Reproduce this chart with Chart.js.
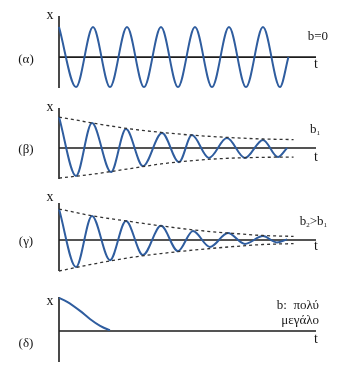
<!DOCTYPE html>
<html>
<head>
<meta charset="utf-8">
<script src="https://cdn.jsdelivr.net/npm/chart.js@4.4.0/dist/chart.umd.min.js"></script>
<style>
  body { margin: 0; background: #fff; }
  #wrap { position: relative; width: 347px; height: 371px; overflow: hidden; }
  canvas { position: absolute; left: 0; top: 0; }
  .lbl {
    position: absolute;
    font-family: "Liberation Serif", "DejaVu Serif", serif;
    color: #161616;
    white-space: nowrap;
    line-height: 1;
    transform: translate(-50%, -50%);
  }
  .r { transform: translate(-100%, -50%); }
  sub { font-size: 7px; vertical-align: -2px; }
</style>
</head>
<body>
<div id="wrap">
  <canvas id="panelA" width="347" height="371"></canvas>
  <canvas id="panelB" width="347" height="371"></canvas>
  <canvas id="panelC" width="347" height="371"></canvas>
  <canvas id="panelD" width="347" height="371"></canvas>

  <div class="lbl" style="left:50px;top:15px;font-size:14px">x</div>
  <div class="lbl" style="left:50px;top:107px;font-size:14px">x</div>
  <div class="lbl" style="left:50px;top:197px;font-size:14px">x</div>
  <div class="lbl" style="left:50px;top:301px;font-size:14px">x</div>

  <div class="lbl" style="left:316px;top:64px;font-size:14px">t</div>
  <div class="lbl" style="left:316px;top:157px;font-size:14px">t</div>
  <div class="lbl" style="left:316px;top:246px;font-size:14px">t</div>
  <div class="lbl" style="left:316px;top:339px;font-size:14px">t</div>

  <div class="lbl" style="left:26px;top:58px;font-size:13px">(α)</div>
  <div class="lbl" style="left:26px;top:148px;font-size:13px">(β)</div>
  <div class="lbl" style="left:26px;top:240px;font-size:13px">(γ)</div>
  <div class="lbl" style="left:26px;top:342px;font-size:13px">(δ)</div>

  <div class="lbl r" style="left:328px;top:35px;font-size:13px">b=0</div>
  <div class="lbl r" style="left:320px;top:129px;font-size:13px">b<sub>1</sub></div>
  <div class="lbl r" style="left:327px;top:221px;font-size:13px">b<sub>2</sub>&gt;b<sub>1</sub></div>
  <div class="lbl r" style="left:319px;top:304px;font-size:13px">b:&nbsp; πολύ</div>
  <div class="lbl r" style="left:319px;top:319px;font-size:13px">μεγάλο</div>
</div>

<script>
// time t in oscillation periods, displacement x in units of the starting amplitude

// (α) no damping
const tA = [0, 0.5, 1, 1.5, 2, 2.5, 3, 3.5, 4, 4.5, 5, 5.5, 6, 6.5, 6.75];
const xA = [1, -1, 1, -1, 1, -1, 1, -1, 1, -1, 1, -1, 1, -1, 0];

// (β) light damping b1
const tB = [0, 0.5, 0.97, 1.53, 1.97, 2.47, 3.03, 3.53, 3.91, 4.41, 4.94, 5.47, 6.0, 6.44, 6.71];
const xB = [1.03, -0.93, 0.83, -0.8, 0.63, -0.6, 0.5, -0.47, 0.43, -0.33, 0.33, -0.33, 0.27, -0.3, 0];

// (γ) stronger damping b2 > b1
const tC = [0, 0.5, 0.97, 1.5, 1.97, 2.47, 3.0, 3.5, 3.94, 4.44, 4.97, 5.47, 6.0, 6.41, 6.71];
const xC = [1.03, -0.9, 0.8, -0.67, 0.63, -0.5, 0.47, -0.37, 0.3, -0.23, 0.23, -0.13, 0.13, -0.08, 0.02];

// (δ) very large damping, no oscillation
const tD = [0, 0.24, 0.62, 0.91, 1.21, 1.44, 1.5];
const xD = [1.1, 0.97, 0.67, 0.4, 0.17, 0.05, 0.03];

// dashed amplitude envelopes
const tEnv = [0, 1, 2, 3, 4, 5, 6, 6.9];
const envTopB = [1.03, 0.83, 0.65, 0.52, 0.42, 0.35, 0.3, 0.28];
const envBotB = [-1.0, -0.87, -0.7, -0.53, -0.41, -0.34, -0.31, -0.3];
const envTopC = [1.03, 0.8, 0.63, 0.47, 0.33, 0.23, 0.15, 0.12];
const envBotC = [-1.03, -0.8, -0.6, -0.45, -0.33, -0.23, -0.15, -0.12];

const tMax = 7.56;
const blue = "#2f5d9f";

function pts(t, x) {
  return t.map((v, i) => ({ x: v, y: x[i] }));
}

function curve(t, x) {
  return {
    data: pts(t, x),
    borderColor: blue,
    borderWidth: 2,
    pointRadius: 0,
    cubicInterpolationMode: "monotone",
    clip: false,
  };
}

function envelope(t, x) {
  return {
    data: pts(t, x),
    borderColor: "#333",
    borderWidth: 1.3,
    borderDash: [3, 3],
    pointRadius: 0,
    cubicInterpolationMode: "monotone",
    clip: false,
  };
}

// draws the x axis (vertical) and the t axis along x = 0
const axesPlugin = {
  id: "axes",
  beforeDatasetsDraw(chart) {
    const { ctx, chartArea: a, scales } = chart;
    const y0 = scales.y.getPixelForValue(0);
    ctx.save();
    ctx.strokeStyle = "#1d1d1d";
    ctx.lineWidth = 1.6;
    ctx.beginPath();
    ctx.moveTo(a.left, a.top);
    ctx.lineTo(a.left, a.bottom);
    ctx.moveTo(a.left, y0);
    ctx.lineTo(a.right, y0);
    ctx.stroke();
    ctx.restore();
  },
};

function makePanel(id, top, bottom, yMin, yMax, datasets) {
  return new Chart(id, {
    type: "line",
    data: { datasets: datasets },
    options: {
      responsive: false,
      animation: false,
      layout: { padding: { left: 59, right: 31, top: top, bottom: 371 - bottom } },
      plugins: { legend: { display: false }, tooltip: { enabled: false } },
      scales: {
        x: { type: "linear", min: 0, max: tMax, display: false },
        y: { min: yMin, max: yMax, display: false },
      },
    },
    plugins: [axesPlugin],
  });
}

makePanel("panelA", 16, 88, -1.03, 1.37, [curve(tA, xA)]);
makePanel("panelB", 108, 179, -1.03, 1.33, [
  envelope(tEnv, envTopB), envelope(tEnv, envBotB), curve(tB, xB),
]);
makePanel("panelC", 203, 271, -1.03, 1.23, [
  envelope(tEnv, envTopC), envelope(tEnv, envBotC), curve(tC, xC),
]);
makePanel("panelD", 297, 362, -1.03, 1.13, [curve(tD, xD)]);
</script>
</body>
</html>
